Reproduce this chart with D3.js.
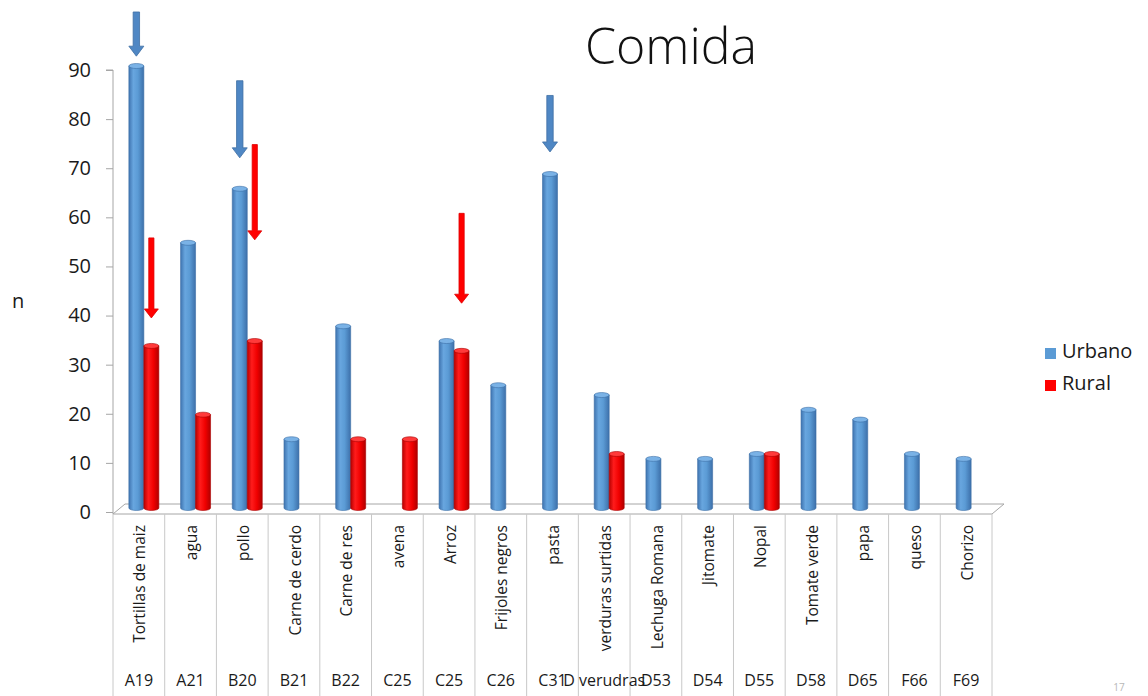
<!DOCTYPE html>
<html>
<head>
<meta charset="utf-8">
<script src="https://cdn.jsdelivr.net/npm/d3@7"></script>
<style>
  html, body { margin: 0; padding: 0; background: #ffffff; }
  svg { display: block; }
  text { font-family: "Open Sans", "Noto Sans", sans-serif; fill: #1a1a1a; }
</style>
</head>
<body>
<svg id="chart" width="1148" height="696"></svg>
<script>
// ---- data ----
const categories = ["Tortillas de maiz", "agua", "pollo", "Carne de cerdo", "Carne de res", "avena", "Arroz",
  "Frijoles negros", "pasta", "verduras surtidas", "Lechuga Romana", "Jitomate", "Nopal", "Tomate verde",
  "papa", "queso", "Chorizo"];
const codes = ["A19", "A21", "B20", "B21", "B22", "C25", "C25", "C26", "C31", "D verudras", "D53", "D54",
  "D55", "D58", "D65", "F66", "F69"];
const seriesNames = ["Urbano", "Rural"];
const urbano = [90, 54, 65, 14, 37, 0, 34, 25, 68, 23, 10, 10, 11, 20, 18, 11, 10];
const rural  = [33, 19, 34, 0, 14, 14, 32, 0, 0, 11, 0, 0, 11, 0, 0, 0, 0];
const yTickValues = [0, 10, 20, 30, 40, 50, 60, 70, 80, 90];
const titleText = "Comida";
const yTitle = "n";
const pageNumber = "17";
// annotation arrows (category, series, start value, tip value)
const arrowCategory = ["Tortillas de maiz", "Tortillas de maiz", "pollo", "pollo", "Arroz", "pasta"];
const arrowSeries   = ["Urbano", "Rural", "Urbano", "Rural", "Rural", "Urbano"];
const arrowFrom     = [101, 55, 87, 74, 60, 84];
const arrowTo       = [92, 38.7, 71.3, 54.6, 41.7, 72.5];

// ---- layout ----
const svg = d3.select("#chart");
const colors = { Urbano: "#5b9bd5", Rural: "#ff0000" };
const x = d3.scaleBand().domain(categories).range([113, 992]).paddingInner(0).paddingOuter(0);
const y = d3.scaleLinear().domain([0, 90]).range([512, 70]);
const depth = 4;           // bars sit slightly behind the front axis line
const barW = 15;
const bw = x.bandwidth();
function barX(cat, s) { const c = x(cat) + bw / 2; return s === "Urbano" ? c - 10 : c + 5; }

// gradients
const defs = svg.append("defs");
function grad(id, stops) {
  const g = defs.append("linearGradient").attr("id", id).attr("x1", "0%").attr("x2", "100%").attr("y1", "0%").attr("y2", "0%");
  stops.forEach(s => g.append("stop").attr("offset", s[0]).attr("stop-color", s[1]));
}
grad("gU", [["0%", "#3f74b0"], ["30%", "#68a6df"], ["60%", "#5b9bd5"], ["100%", "#3d70aa"]]);
grad("gR", [["0%", "#b80000"], ["30%", "#ff1c1c"], ["65%", "#f00000"], ["100%", "#b00000"]]);

// title
svg.append("text").attr("x", 585).attr("y", 64).attr("font-size", 50).attr("font-weight", 300)
  .style("fill", "#111").text(titleText);

// y axis title
svg.append("text").attr("x", 12).attr("y", 308).attr("font-size", 20).text(yTitle);

// floor (3D base)
const fx0 = x.range()[0], fx1 = x.range()[1], fy = y(0) + 2;
svg.append("path")
  .attr("d", `M${fx0},${fy} L${fx0 + 12},${fy - 10} L${fx1 + 12},${fy - 10} L${fx1},${fy} Z`)
  .attr("fill", "none").attr("stroke", "#a6a6a6").attr("stroke-width", 1);

// y axis
const yAxis = d3.axisLeft(y).tickValues(yTickValues).tickSize(7).tickPadding(15);
const gy = svg.append("g").attr("transform", `translate(${fx0},0)`).call(yAxis);
gy.select(".domain").attr("stroke", "#a6a6a6").attr("d", `M-7,${y(90)}H0V${fy}`);
gy.selectAll(".tick line").attr("stroke", "#a6a6a6");
gy.selectAll(".tick text").attr("font-size", 20).attr("font-family", "Open Sans").attr("fill", "#1a1a1a");

// category dividers
const dividerX = categories.map(c => x(c)).concat([fx1]);
svg.append("g").selectAll("line").data(dividerX).join("line")
  .attr("x1", d => d).attr("x2", d => d).attr("y1", fy).attr("y2", 696)
  .attr("stroke", "#c8c8c8").attr("stroke-width", 1);

// rotated category labels
svg.append("g").selectAll("text").data(categories).join("text")
  .attr("transform", d => `translate(${x(d) + bw / 2 + 1},525) rotate(-90)`)
  .attr("text-anchor", "end").attr("dy", "0.36em").attr("font-size", 15.5).text(d => d);

// code labels
svg.append("g").selectAll("text").data(codes).join("text")
  .attr("x", (d, i) => x(categories[i]) + bw / 2).attr("y", 686)
  .attr("text-anchor", "middle").attr("font-size", 16).text(d => d);

// bars (cylinders)
const barData = [];
categories.forEach((c, i) => {
  barData.push({ cat: c, s: "Urbano", v: urbano[i] });
  barData.push({ cat: c, s: "Rural", v: rural[i] });
});
const rx = barW / 2, ry = 2.5;
const gb = svg.append("g");
barData.filter(d => d.v > 0).forEach(d => {
  const x0 = barX(d.cat, d.s), x1 = x0 + barW;
  const yt = y(d.v) - depth, yb = y(0) - depth;
  const fillId = d.s === "Urbano" ? "url(#gU)" : "url(#gR)";
  const edge = d.s === "Urbano" ? "#3c6ea6" : "#a80000";
  gb.append("path")
    .attr("d", `M${x0},${yt} L${x0},${yb} A${rx},${ry} 0 0 0 ${x1},${yb} L${x1},${yt} Z`)
    .attr("fill", fillId).attr("stroke", edge).attr("stroke-width", 0.6);
  gb.append("ellipse").attr("cx", x0 + rx).attr("cy", yt).attr("rx", rx).attr("ry", ry)
    .attr("fill", d.s === "Urbano" ? "#7ab2e6" : "#ff3a3a").attr("stroke", edge).attr("stroke-width", 0.6);
});

// annotation arrows
const ga = svg.append("g");
arrowCategory.forEach((c, i) => {
  const s = arrowSeries[i];
  const cx = barX(c, s) + barW / 2;
  const y0 = y(arrowFrom[i]) - depth, y1 = y(arrowTo[i]) - depth;
  const blue = s === "Urbano";
  const sw = blue ? 3.2 : 2.6, hw = blue ? 7.5 : 7, hl = blue ? 10 : 9;
  const yh = y1 - hl;
  ga.append("path")
    .attr("d", `M${cx - sw},${y0} L${cx + sw},${y0} L${cx + sw},${yh} L${cx + hw},${yh} L${cx},${y1} L${cx - hw},${yh} L${cx - sw},${yh} Z`)
    .attr("fill", blue ? "#4f87c4" : "#ff0000")
    .attr("stroke", blue ? "#3f6ea3" : "#e00000").attr("stroke-width", 0.8);
});

// legend
const lg = svg.append("g");
seriesNames.forEach((s, i) => {
  lg.append("rect").attr("x", 1045).attr("y", 348 + i * 32).attr("width", 11).attr("height", 11)
    .attr("fill", colors[s]);
  lg.append("text").attr("x", 1062).attr("y", 358 + i * 32).attr("font-size", 20).text(s);
});

// page number
svg.append("text").attr("x", 1119).attr("y", 691).attr("text-anchor", "middle")
  .attr("font-size", 10).style("fill", "#b8b8b8").text(pageNumber);
</script>
</body>
</html>
